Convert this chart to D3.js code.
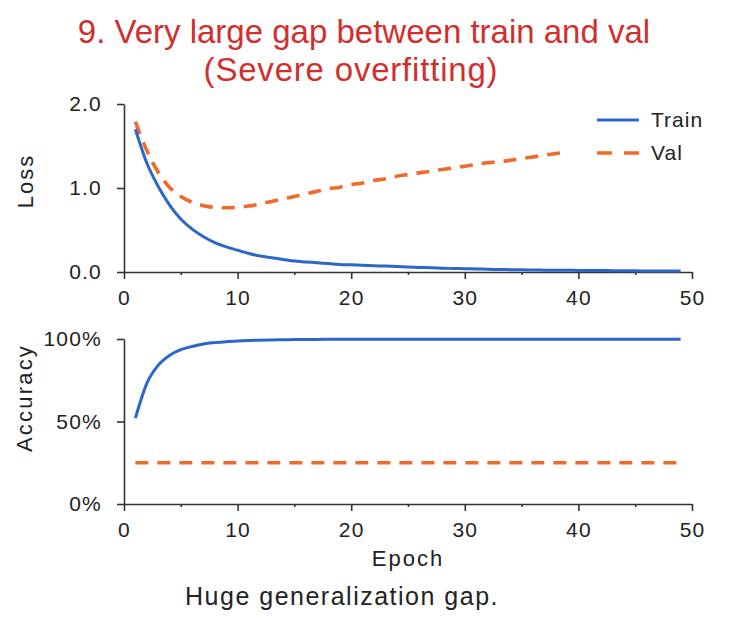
<!DOCTYPE html>
<html>
<head>
<meta charset="utf-8">
<script src="https://cdn.jsdelivr.net/npm/d3@7"></script>
<style>
  body { margin: 0; background: #fff; }
  svg { font-family: "Liberation Sans", Arial, Helvetica, sans-serif; }
  .axis path, .axis line { stroke: #333; stroke-width: 1.6; }
  .axis text { font-size: 21px; fill: #222; letter-spacing: 1.2px; }
</style>
</head>
<body>
<div id="chart"></div>
<script>
// epochs 1..49 for train, val loss stops at 39
var epochs = d3.range(1, 50);

var trainLoss = [1.70, 1.30, 1.02, 0.80, 0.63, 0.51, 0.42, 0.35, 0.30, 0.26,
                 0.22, 0.19, 0.17, 0.15, 0.13, 0.12, 0.11, 0.10, 0.09, 0.085,
                 0.08, 0.075, 0.07, 0.065, 0.06, 0.055, 0.05, 0.045, 0.042, 0.039,
                 0.036, 0.033, 0.03, 0.028, 0.026, 0.024, 0.022, 0.021, 0.02, 0.019,
                 0.018, 0.017, 0.016, 0.015, 0.014, 0.013, 0.013, 0.012, 0.012];

var valLoss = [1.79, 1.45, 1.19, 1.01, 0.90, 0.83, 0.79, 0.77, 0.765, 0.77,
               0.785, 0.81, 0.84, 0.87, 0.90, 0.93, 0.96, 0.99, 1.01, 1.04,
               1.06, 1.09, 1.11, 1.14, 1.16, 1.18, 1.20, 1.22, 1.24, 1.26,
               1.28, 1.30, 1.31, 1.33, 1.35, 1.37, 1.39, 1.41, 1.43];

var trainAcc = [52, 73, 84, 90, 93.5, 95.5, 97, 97.8, 98.4, 98.8,
                99.1, 99.3, 99.45, 99.55, 99.65, 99.7, 99.75, 99.8, 99.8, 99.85,
                99.85, 99.85, 99.9, 99.9, 99.9, 99.9, 99.9, 99.9, 99.9, 99.9,
                99.9, 99.9, 99.9, 99.9, 99.9, 99.9, 99.9, 99.9, 99.9, 99.9,
                99.9, 99.9, 99.9, 99.9, 99.9, 99.9, 99.9, 99.9, 99.9];

var valAcc = [25, 25, 25, 25, 25, 25, 25, 25, 25, 25,
              25, 25, 25, 25, 25, 25, 25, 25, 25, 25,
              25, 25, 25, 25, 25, 25, 25, 25, 25, 25,
              25, 25, 25, 25, 25, 25, 25, 25, 25, 25,
              25, 25, 25, 25, 25, 25, 25, 25, 25];

var xTicks = [0, 10, 20, 30, 40, 50];
var xMinor = [5, 15, 25, 35, 45];
var lossTicks = [0, 1, 2];
var accTicks = [0, 50, 100];
var seriesNames = ["Train", "Val"];

var blue = "#2b67c8", orange = "#f06a2b";

var svg = d3.select("#chart").append("svg")
    .attr("width", 730)
    .attr("height", 622);

svg.append("rect").attr("width", 730).attr("height", 622).attr("fill", "#fff");

// title
var title = svg.append("g").attr("fill", "#d12f2e").attr("text-anchor", "middle")
    .style("font-size", "33px");
title.append("text").attr("x", 364).attr("y", 43).text("9. Very large gap between train and val");
title.append("text").attr("x", 351).attr("y", 81).style("letter-spacing", "0.8px").text("(Severe overfitting)");

var x = d3.scaleLinear().domain([0, 50]).range([124, 692]);
var yLoss = d3.scaleLinear().domain([0, 2]).range([272, 104]);
var yAcc = d3.scaleLinear().domain([0, 100]).range([504, 339]);

function drawPanel(y, ticks, fmt, yBottom) {
    svg.append("g")
        .attr("class", "axis")
        .attr("transform", "translate(" + x(0) + ",0)")
        .call(d3.axisLeft(y).tickValues(ticks).tickFormat(fmt).tickSize(7).tickSizeOuter(0).tickPadding(15));

    svg.append("g")
        .attr("class", "axis")
        .attr("transform", "translate(0," + yBottom + ")")
        .call(d3.axisBottom(x).tickValues(xTicks).tickSize(7).tickSizeOuter(0).tickPadding(11));

    svg.append("g")
        .attr("class", "axis")
        .attr("transform", "translate(0," + yBottom + ")")
        .call(d3.axisBottom(x).tickValues(xMinor).tickFormat("").tickSize(3).tickSizeOuter(0))
        .select(".domain").remove();
}

drawPanel(yLoss, lossTicks, d3.format(".1f"), 272);
drawPanel(yAcc, accTicks, function (d) { return d + "%"; }, 504);

function drawLine(vals, y, color, dashed) {
    var line = d3.line()
        .x(function (d, i) { return x(epochs[i]); })
        .y(function (d) { return y(d); })
        .curve(d3.curveMonotoneX);
    svg.append("path")
        .datum(vals)
        .attr("fill", "none")
        .attr("stroke", color)
        .attr("stroke-width", dashed ? 3.6 : 3)
        .attr("stroke-dasharray", dashed ? "13,9" : null)
        .attr("d", line);
}

drawLine(valLoss, yLoss, orange, true);
drawLine(trainLoss, yLoss, blue, false);
drawLine(valAcc, yAcc, orange, true);
drawLine(trainAcc, yAcc, blue, false);

// axis titles
function label(txt, tx, ty, rot, size, ls) {
    svg.append("text")
        .attr("transform", "translate(" + tx + "," + ty + ")" + (rot ? " rotate(-90)" : ""))
        .attr("text-anchor", "middle")
        .style("font-size", size + "px")
        .style("letter-spacing", ls + "px")
        .attr("fill", "#222")
        .text(txt);
}
label("Loss", 33, 181, true, 22, 2);
label("Accuracy", 32, 398, true, 22, 2.2);
label("Epoch", 408, 566, false, 22, 2);
label("Huge generalization gap.", 342, 605, false, 25, 1.5);

// legend
var legend = svg.append("g");
seriesNames.forEach(function (name, i) {
    var ly = 120 + i * 33;
    legend.append("line")
        .attr("x1", 597).attr("x2", 639).attr("y1", ly).attr("y2", ly)
        .attr("stroke", i === 0 ? blue : orange)
        .attr("stroke-width", i === 0 ? 3 : 3.6)
        .attr("stroke-dasharray", i === 0 ? null : "15,12");
    legend.append("text")
        .attr("x", 651).attr("y", ly + 7)
        .style("font-size", "21px")
        .style("letter-spacing", "1px")
        .attr("fill", "#222")
        .text(name);
});
</script>
</body>
</html>
